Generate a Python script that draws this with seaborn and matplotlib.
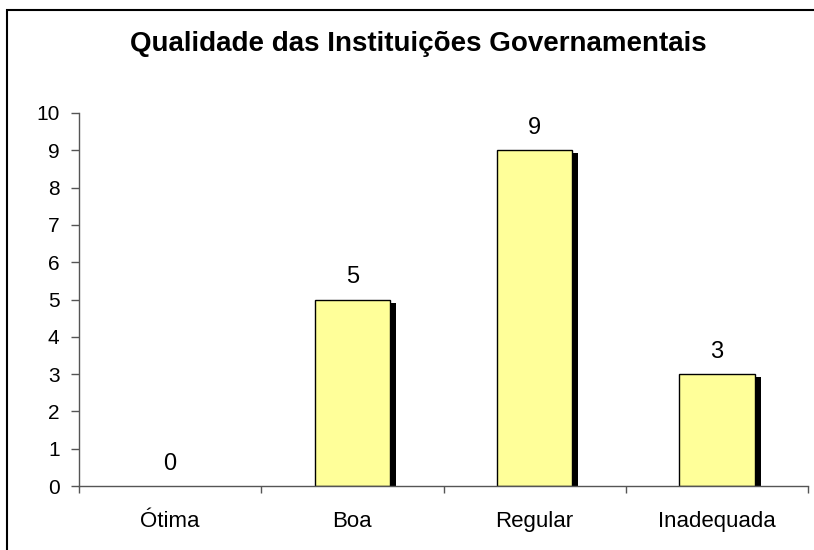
import matplotlib
matplotlib.use("Agg")
import matplotlib.pyplot as plt
import matplotlib.patheffects as pe
from matplotlib.patches import Rectangle
import seaborn as sns
import pandas as pd

categories = ["Ótima", "Boa", "Regular", "Inadequada"]
values = [0, 5, 9, 3]
title = "Qualidade das Instituições Governamentais"
yticks = list(range(0, 11))

sns.set_theme(style="white", rc={"text.color": "black", "axes.labelcolor": "black",
                                 "xtick.color": "black", "ytick.color": "black"})
plt.rcParams["font.family"] = ["Liberation Sans", "DejaVu Sans"]

df = pd.DataFrame({"cat": categories, "val": values})

fig = plt.figure(figsize=(8.14, 5.5), dpi=100)
ax = fig.add_axes([79 / 814, 1 - 486 / 550, (808 - 79) / 814, (486 - 113) / 550])

sns.barplot(data=df, x="cat", y="val", ax=ax, color="#FFFF99", saturation=1,
            width=0.415, edgecolor="black", linewidth=1.0)

for bar, v in zip(ax.patches, values):
    if v == 0:
        bar.set_linewidth(0)
    bar.set_path_effects([pe.SimplePatchShadow(offset=(4.3, -2.2), shadow_rgbFace="black", alpha=1.0),
                          pe.Normal()])

ax.bar_label(ax.containers[0], labels=[str(v) for v in values], padding=8, fontsize=17)

ax.set_xlim(-0.5, 3.5)
ax.set_ylim(0, 10)
ax.set_yticks(yticks)
ax.set_xlabel("")
ax.set_ylabel("")

fig.text(418 / 814, 1 - 44 / 550, title, fontsize=20, fontweight="bold", ha="center", va="center")

for side in ["top", "right"]:
    ax.spines[side].set_visible(False)
for side in ["left", "bottom"]:
    ax.spines[side].set_color("#555555")
    ax.spines[side].set_linewidth(1.0)

ax.tick_params(axis="y", which="major", left=True, length=6, width=1, color="#555555",
               labelsize=15, pad=8)
ax.set_xticks([0, 1, 2, 3])
ax.set_xticks([-0.5, 0.5, 1.5, 2.5, 3.5], minor=True)
ax.tick_params(axis="x", which="major", bottom=False, labelsize=16, pad=12)
ax.tick_params(axis="x", which="minor", bottom=True, length=5, width=1, color="#555555")

# outer chart frame
fig.patches.append(Rectangle((7 / 814, -0.05), 1.2, 1 - 10 / 550 + 0.05, transform=fig.transFigure,
                             fill=False, edgecolor="black", linewidth=1.5))

fig.savefig("out.png", dpi=100)
